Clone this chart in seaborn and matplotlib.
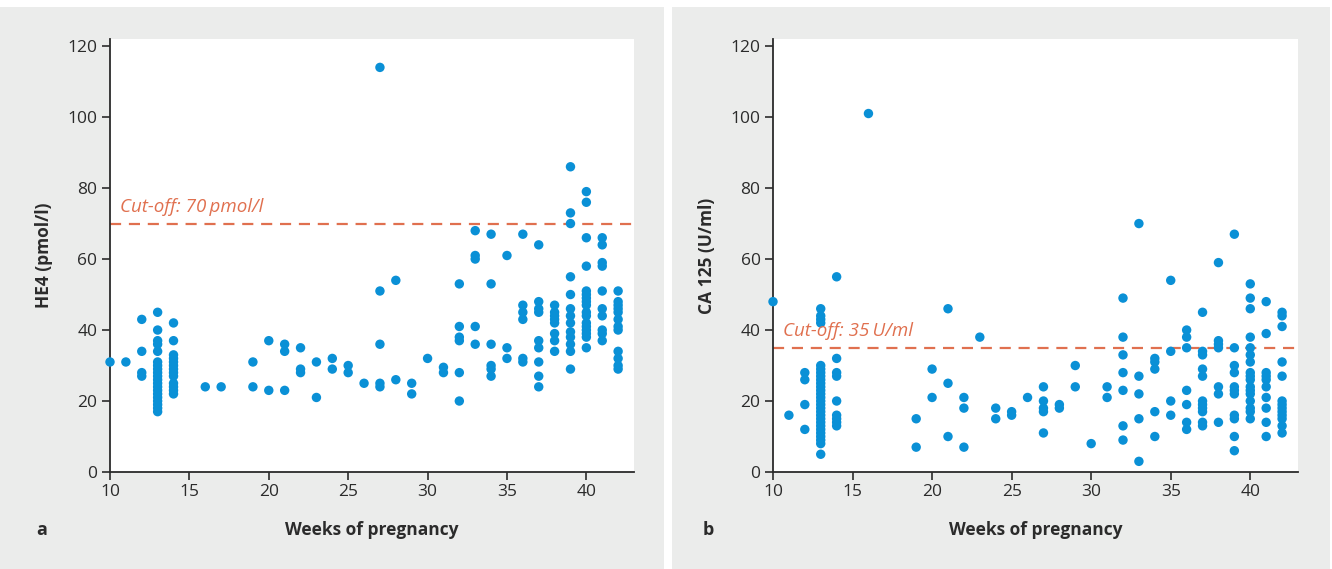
import pandas as pd
import matplotlib.pyplot as plt
import seaborn as sns
from matplotlib.patches import Rectangle

# HE4 panel (a): week of pregnancy, value in pmol/l
he4_week = ([10, 11] + [12] * 4 + [13] * 20 + [14] * 13 + [16, 17] + [19] * 2 + [20] * 2 + [21] * 3
            + [22] * 3 + [23] * 2 + [24] * 2 + [25] * 2 + [26] + [27] * 5 + [28] * 2 + [29] * 2 + [30]
            + [31] * 2 + [32] * 6 + [33] * 5 + [34] * 6 + [35] * 3 + [36] * 6 + [37] * 9 + [38] * 8
            + [39] * 13 + [40] * 17 + [41] * 10 + [42] * 12)
he4_val = ([31, 31]
           + [43, 34, 28, 27]
           + [45, 40, 37, 36, 34, 31, 30, 29, 28, 27, 26, 25, 24, 23, 22, 21, 20, 19, 18, 17]
           + [42, 37, 33, 32, 31, 30, 29, 28, 27, 25, 24, 23, 22]
           + [24, 24]
           + [31, 24] + [37, 23] + [36, 34, 23] + [35, 29, 28] + [31, 21] + [32, 29] + [30, 28] + [25]
           + [114, 51, 36, 25, 24] + [54, 26] + [25, 22] + [32] + [29.5, 28]
           + [53, 41, 38, 37, 28, 20]
           + [68, 61, 60, 41, 36]
           + [67, 53, 36, 30, 29, 27]
           + [61, 35, 32]
           + [67, 47, 45, 43, 32, 31]
           + [64, 48, 46, 45, 37, 35, 31, 27, 24]
           + [47, 45, 44, 43, 42, 39, 37, 34]
           + [86, 73, 70, 55, 50, 46, 44, 42, 39.5, 38, 36, 34, 29]
           + [79, 76, 66, 58, 51, 50, 49, 48, 47, 45, 44, 42, 41, 40, 39, 38, 35]
           + [66, 64, 59, 58, 51, 46, 44, 40, 39, 37]
           + [51, 48, 47, 46, 45, 43, 41, 40, 34, 32, 30, 29])

# CA 125 panel (b): week of pregnancy, value in U/ml
ca125_week = ([10, 11] + [12] * 4 + [13] * 28 + [14] * 9 + [16] + [19] * 2 + [20] * 2 + [21] * 3
              + [22] * 3 + [23] + [24] * 2 + [25] * 2 + [26] + [27] * 5 + [28] * 2 + [29] * 2 + [30]
              + [31] * 2 + [32] * 7 + [33] * 5 + [34] * 5 + [35] * 4 + [36] * 7 + [37] * 11 + [38] * 7
              + [39] * 11 + [40] * 17 + [41] * 10 + [42] * 13)
ca125_val = ([48, 16]
             + [28, 26, 19, 12]
             + [46, 44, 43, 42, 30, 29, 28, 27, 26, 25, 24, 23, 22, 21, 20, 19, 18, 17, 16, 15, 14, 13,
                12, 11, 10, 9, 8, 5]
             + [55, 32, 28, 27, 20, 16, 15, 14, 13]
             + [101]
             + [15, 7] + [29, 21] + [46, 25, 10] + [21, 18, 7] + [38] + [18, 15] + [17, 16] + [21]
             + [24, 20, 18, 17, 11] + [19, 18] + [30, 24] + [8] + [24, 21]
             + [49, 38, 33, 28, 23, 13, 9]
             + [70, 27, 22, 15, 3]
             + [32, 31, 29, 17, 10]
             + [54, 34, 20, 16]
             + [40, 38, 35, 23, 19, 14, 12]
             + [45, 34, 33, 29, 27, 20, 19, 18, 17, 14, 13]
             + [59, 37, 36, 35, 24, 22, 14]
             + [67, 35, 30, 28, 24, 23, 22, 16, 15, 10, 6]
             + [53, 49, 46, 38, 35, 33, 31, 28, 27, 26, 24, 23, 22, 20, 18, 17, 15]
             + [48, 39, 28, 27, 26, 24, 21, 18, 14, 10]
             + [45, 44, 41, 31, 27, 20, 19, 18, 17, 16, 15, 13, 11])

he4_cutoff = 70
ca125_cutoff = 35

sns.set_theme(style='white')
plt.rcParams['font.family'] = ['Open Sans', 'DejaVu Sans']

W, H = 1332, 569
fig = plt.figure(figsize=(W / 100, H / 100), dpi=100)
fig.patch.set_facecolor('white')

# grey panel backgrounds
fig.patches.append(Rectangle((0, 0), 664 / W, 562 / H, transform=fig.transFigure,
                             facecolor='#ebeceb', edgecolor='none', zorder=-5))
fig.patches.append(Rectangle((672 / W, 0), 658 / W, 562 / H, transform=fig.transFigure,
                             facecolor='#ebeceb', edgecolor='none', zorder=-5))

dot_color = '#0a90d6'
cut_color = '#e0704f'
ink = '#2b2b2b'

panels = [
    (110, 634, pd.DataFrame({'week': he4_week, 'value': he4_val}), 'HE4 (pmol/l)',
     he4_cutoff, 'Cut-off: 70\u2009pmol/l', 'a', 42, 53),
    (773, 1298, pd.DataFrame({'week': ca125_week, 'value': ca125_val}), 'CA 125 (U/ml)',
     ca125_cutoff, 'Cut-off: 35\u2009U/ml', 'b', 708, 716),
]

for x0, x1, df, ylab, cut, cut_txt, letter, lx, ylx in panels:
    ax = fig.add_axes([x0 / W, (H - 472) / H, (x1 - x0) / W, (472 - 39) / H])
    ax.set_facecolor('white')
    sns.scatterplot(data=df, x='week', y='value', ax=ax, color=dot_color, s=46,
                    edgecolor='none', zorder=3, clip_on=False)
    ax.axhline(cut, color=cut_color, lw=1.6, ls=(0, (5, 3.5)), zorder=2)
    ax.text(10.6, cut + 2.2, cut_txt, color=cut_color, fontsize=13.5,
            fontstyle='italic', va='bottom', ha='left')
    ax.set_xlim(10, 43)
    ax.set_ylim(0, 122)
    ax.set_xticks(range(10, 41, 5))
    ax.set_yticks(range(0, 121, 20))
    for s in ['top', 'right']:
        ax.spines[s].set_visible(False)
    for s in ['left', 'bottom']:
        ax.spines[s].set_color(ink)
        ax.spines[s].set_linewidth(1.3)
    ax.tick_params(axis='both', direction='out', length=6, width=1.2, color=ink,
                   labelsize=12.5, labelcolor=ink, pad=3, left=True, bottom=True)
    ax.set_xlabel('Weeks of pregnancy', fontsize=12.5, fontweight='bold', color=ink)
    ax.set_ylabel(ylab, fontsize=12.5, fontweight='bold', color=ink)
    ax.xaxis.set_label_coords(0.5, -(521 - 472) / 433)
    ax.yaxis.set_label_coords(-(x0 - ylx) / (x1 - x0), 0.5)
    fig.text(lx / W, 1 - 530 / H, letter, fontsize=13, fontweight='bold', color=ink,
             ha='center', va='center')

fig.savefig('out.png', dpi=100)
